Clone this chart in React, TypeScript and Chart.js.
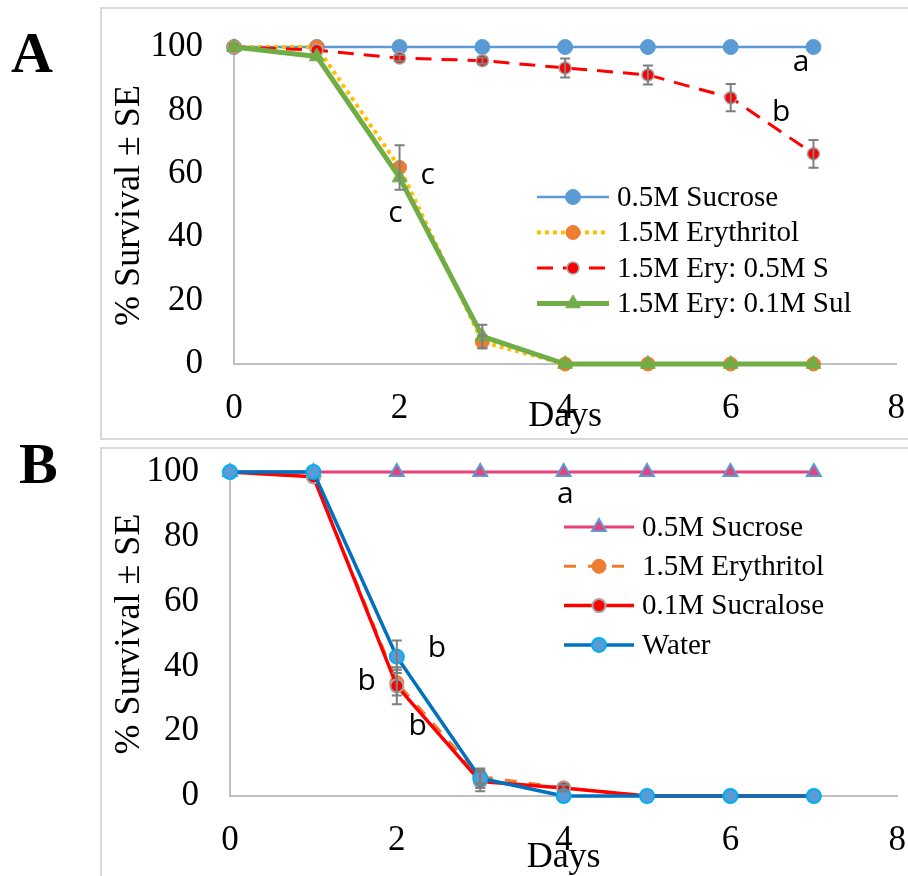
import React, { useEffect, useRef } from "react";
import { Chart, registerables } from "chart.js";
Chart.register(...registerables);

// ---------- DATA ----------
const DAYS = [0, 1, 2, 3, 4, 5, 6, 7];
const X_TICKS = [0, 2, 4, 6, 8];
const Y_TICKS = [0, 20, 40, 60, 80, 100];

// Panel A
const A_LABELS = ["0.5M Sucrose", "1.5M Erythritol", "1.5M Ery: 0.5M S", "1.5M Ery: 0.1M Sul"];
const A_SUCROSE = [100, 100, 100, 100, 100, 100, 100, 100];
const A_ERYTHRITOL = [100, 100, 62, 7, 0, 0, 0, 0];
const A_ERY_S = [100, 99, 96.5, 95.7, 93.4, 91.2, 84, 66.3];
const A_ERY_SUL = [100, 97, 58.8, 8.7, 0, 0, 0, 0];
const A_SUCROSE_SE = [0, 0, 0, 0, 0, 0, 0, 0];
const A_ERYTHRITOL_SE = [0, 0, 7, 2, 0, 0, 0, 0];
const A_ERY_S_SE = [0, 0, 1, 1, 3, 3, 4.3, 4.4];
const A_ERY_SUL_SE = [0, 0, 0, 3.7, 0, 0, 0, 0];
const A_LETTERS = ["c", "c", "a", "b"];
const A_LETTER_DAY = [2.34, 1.95, 6.85, 6.61];
const A_LETTER_VAL = [59.6, 47.6, 95, 79.5];

// Panel B
const B_LABELS = ["0.5M Sucrose", "1.5M Erythritol", "0.1M Sucralose", "Water"];
const B_SUCROSE = [100, 100, 100, 100, 100, 100, 100, 100];
const B_ERYTHRITOL = [100, 98.5, 35, 6, 2.5, 0, 0, 0];
const B_SUCRALOSE = [100, 98.5, 34, 4.5, 2.5, 0, 0, 0];
const B_WATER = [100, 100, 43, 5.5, 0, 0, 0, 0];
const B_SUCROSE_SE = [0, 0, 0, 0, 0, 0, 0, 0];
const B_ERYTHRITOL_SE = [0, 0, 4, 2, 1, 0, 0, 0];
const B_SUCRALOSE_SE = [0, 0, 5.7, 3, 1, 0, 0, 0];
const B_WATER_SE = [0, 0, 5, 3, 0, 0, 0, 0];
const B_LETTERS = ["a", "b", "b", "b"];
const B_LETTER_DAY = [4.02, 2.48, 1.64, 2.25];
const B_LETTER_VAL = [93.2, 45.4, 35.5, 21.6];

// ---------- STYLES ----------
const SERIF = '"Liberation Serif", "Times New Roman", serif';
const SANS = '"Open Sans", "Liberation Sans", sans-serif';

type Style = {
  color: string; width: number; dash: number[];
  point: string; radius: number; fill: string; pborder: string; pbw: number;
};

const A_STYLES: Style[] = [
  { color: "#5B9BD5", width: 2.5, dash: [], point: "circle", radius: 7.5, fill: "#5B9BD5", pborder: "#5B9BD5", pbw: 1 },
  { color: "#FFC000", width: 4, dash: [4, 4], point: "circle", radius: 7, fill: "#ED7D31", pborder: "#ED7D31", pbw: 1 },
  { color: "#FF0000", width: 3, dash: [16, 10], point: "circle", radius: 6, fill: "#FF0000", pborder: "#A5A5A5", pbw: 1.5 },
  { color: "#70AD47", width: 5, dash: [], point: "triangle", radius: 8.5, fill: "#70AD47", pborder: "#70AD47", pbw: 1 },
];
const B_STYLES: Style[] = [
  { color: "#E8407A", width: 3, dash: [], point: "triangle", radius: 8, fill: "#E8407A", pborder: "#5B9BD5", pbw: 2 },
  { color: "#ED7D31", width: 3, dash: [12, 12], point: "circle", radius: 7, fill: "#ED7D31", pborder: "#ED7D31", pbw: 1 },
  { color: "#FF0000", width: 3.5, dash: [], point: "circle", radius: 6.5, fill: "#FF0000", pborder: "#A5A5A5", pbw: 2 },
  { color: "#0070C0", width: 3.5, dash: [], point: "circle", radius: 7, fill: "#5B9BD5", pborder: "#00B0F0", pbw: 2 },
];

// ---------- PLUGINS ----------
const errorBars = {
  id: "errorBars",
  afterDatasetsDraw(chart: any) {
    const ctx = chart.ctx;
    const xs = chart.scales.x, ys = chart.scales.y;
    ctx.save();
    ctx.strokeStyle = "#7F7F7F";
    ctx.lineWidth = 2;
    ctx.setLineDash([]);
    chart.data.datasets.forEach((ds: any) => {
      (ds.errors || []).forEach((e: number, i: number) => {
        if (!e) return;
        const px = xs.getPixelForValue(ds.data[i].x);
        const y1 = ys.getPixelForValue(ds.data[i].y + e);
        const y2 = ys.getPixelForValue(ds.data[i].y - e);
        ctx.beginPath();
        ctx.moveTo(px, y1); ctx.lineTo(px, y2);
        ctx.moveTo(px - 5, y1); ctx.lineTo(px + 5, y1);
        ctx.moveTo(px - 5, y2); ctx.lineTo(px + 5, y2);
        ctx.stroke();
      });
    });
    ctx.restore();
  },
};

function drawMarker(ctx: any, st: Style, x: number, y: number) {
  ctx.save();
  ctx.setLineDash([]);
  ctx.fillStyle = st.fill;
  ctx.strokeStyle = st.pborder;
  ctx.lineWidth = st.pbw;
  ctx.beginPath();
  if (st.point === "triangle") {
    const r = st.radius;
    let a = 0;
    ctx.moveTo(x + Math.sin(a) * r, y - Math.cos(a) * r);
    a += (2 * Math.PI) / 3;
    ctx.lineTo(x + Math.sin(a) * r, y - Math.cos(a) * r);
    a += (2 * Math.PI) / 3;
    ctx.lineTo(x + Math.sin(a) * r, y - Math.cos(a) * r);
    ctx.closePath();
  } else {
    ctx.arc(x, y, st.radius, 0, Math.PI * 2);
  }
  ctx.fill();
  if (st.pbw) ctx.stroke();
  ctx.restore();
}

const customLegend = {
  id: "customLegend",
  afterDraw(chart: any, _args: any, opts: any) {
    if (!opts || !opts.items) return;
    const ctx = chart.ctx;
    ctx.save();
    opts.items.forEach((it: any, i: number) => {
      const y = opts.y + i * opts.rowH;
      const st: Style = it.style;
      ctx.strokeStyle = st.color;
      ctx.lineWidth = st.width;
      ctx.setLineDash(st.dash);
      ctx.beginPath();
      ctx.moveTo(opts.x, y);
      ctx.lineTo(opts.x + opts.lineLen, y);
      ctx.stroke();
      drawMarker(ctx, st, opts.x + opts.lineLen / 2, y);
      ctx.setLineDash([]);
      ctx.fillStyle = "#000";
      ctx.font = `${opts.fontSize}px ${SERIF}`;
      ctx.textAlign = "left";
      ctx.textBaseline = "middle";
      ctx.fillText(it.text, opts.x + opts.lineLen + opts.gap, y + 1);
    });
    ctx.restore();
  },
};

const letters = {
  id: "letters",
  afterDraw(chart: any, _args: any, opts: any) {
    if (!opts || !opts.text) return;
    const ctx = chart.ctx;
    const xs = chart.scales.x, ys = chart.scales.y;
    ctx.save();
    ctx.fillStyle = "#000";
    ctx.font = `30px ${SANS}`;
    ctx.textAlign = "center";
    ctx.textBaseline = "middle";
    opts.text.forEach((t: string, i: number) => {
      ctx.fillText(t, xs.getPixelForValue(opts.days[i]), ys.getPixelForValue(opts.vals[i]));
    });
    ctx.restore();
  },
};

// ---------- CHART ----------
type PanelCfg = {
  labels: string[]; series: number[][]; errors: number[][]; styles: Style[];
  letters: string[]; letterDays: number[]; letterVals: number[];
  width: number; height: number;
  padding: { left: number; right: number; top: number; bottom: number };
  yAxisW: number; xAxisH: number; xTickPad: number;
  legend: { x: number; y: number; rowH: number; lineLen: number; gap: number; fontSize: number };
};

function buildConfig(p: PanelCfg): any {
  const n = p.series.length;
  return {
    type: "line",
    data: {
      datasets: p.series.map((vals, i) => {
        const st = p.styles[i];
        return {
          label: p.labels[i],
          data: DAYS.map((d, j) => ({ x: d, y: vals[j] })),
          errors: p.errors[i],
          borderColor: st.color,
          borderWidth: st.width,
          borderDash: st.dash,
          borderCapStyle: "butt",
          borderJoinStyle: "round",
          pointStyle: st.point,
          pointRadius: st.radius,
          pointBackgroundColor: st.fill,
          pointBorderColor: st.pborder,
          pointBorderWidth: st.pbw,
          tension: 0,
          fill: false,
          clip: false,
          order: n - i,
        };
      }),
    },
    options: {
      animation: false,
      responsive: false,
      maintainAspectRatio: false,
      events: [],
      layout: { padding: p.padding },
      plugins: {
        legend: { display: false },
        tooltip: { enabled: false },
        customLegend: { ...p.legend, items: p.labels.map((t, i) => ({ text: t, style: p.styles[i] })) },
        letters: { text: p.letters, days: p.letterDays, vals: p.letterVals },
      },
      scales: {
        x: {
          type: "linear",
          min: 0,
          max: 8,
          afterBuildTicks: (s: any) => { s.ticks = X_TICKS.map((v) => ({ value: v })); },
          afterFit: (s: any) => { s.height = p.xAxisH; },
          ticks: { font: { family: SERIF, size: 35 }, color: "#000", padding: p.xTickPad, maxRotation: 0, autoSkip: false },
          grid: { display: false, drawTicks: false },
          border: { display: true, color: "#BFBFBF", width: 2 },
          title: { display: true, text: "Days", font: { family: SERIF, size: 36 }, color: "#000", padding: 0 },
        },
        y: {
          type: "linear",
          min: 0,
          max: 100,
          afterBuildTicks: (s: any) => { s.ticks = Y_TICKS.map((v) => ({ value: v })); },
          afterFit: (s: any) => { s.width = p.yAxisW; },
          ticks: { font: { family: SERIF, size: 35 }, color: "#000", padding: 31, autoSkip: false },
          grid: { display: false, drawTicks: false },
          border: { display: true, color: "#BFBFBF", width: 2 },
          title: { display: true, text: "% Survival ± SE", font: { family: SERIF, size: 36 }, color: "#000", padding: 0 },
        },
      },
    },
    plugins: [errorBars, customLegend, letters],
  };
}

function Panel({ cfg, left, top }: { cfg: PanelCfg; left: number; top: number }) {
  const ref = useRef<HTMLCanvasElement>(null);
  useEffect(() => {
    const chart = new Chart(ref.current as HTMLCanvasElement, buildConfig(cfg));
    return () => chart.destroy();
  }, []);
  return (
    <canvas
      ref={ref}
      width={cfg.width}
      height={cfg.height}
      style={{ position: "absolute", left, top, width: cfg.width, height: cfg.height }}
    />
  );
}

// Canvas A placed at page (101, -5); Canvas B at page (101, 420)
const PANEL_A: PanelCfg = {
  labels: A_LABELS,
  series: [A_SUCROSE, A_ERYTHRITOL, A_ERY_S, A_ERY_SUL],
  errors: [A_SUCROSE_SE, A_ERYTHRITOL_SE, A_ERY_S_SE, A_ERY_SUL_SE],
  styles: A_STYLES,
  letters: A_LETTERS, letterDays: A_LETTER_DAY, letterVals: A_LETTER_VAL,
  width: 828, height: 443,
  padding: { left: 7, right: 0, top: 0, bottom: 0 },
  yAxisW: 126, xAxisH: 74, xTickPad: 24,
  legend: { x: 436, y: 202, rowH: 35.5, lineLen: 72, gap: 8, fontSize: 29 },
};

const PANEL_B: PanelCfg = {
  labels: B_LABELS,
  series: [B_SUCROSE, B_ERYTHRITOL, B_SUCRALOSE, B_WATER],
  errors: [B_SUCROSE_SE, B_ERYTHRITOL_SE, B_SUCRALOSE_SE, B_WATER_SE],
  styles: B_STYLES,
  letters: B_LETTERS, letterDays: B_LETTER_DAY, letterVals: B_LETTER_VAL,
  width: 829, height: 459,
  padding: { left: 7, right: 0, top: 0, bottom: 0 },
  yAxisW: 122, xAxisH: 83, xTickPad: 24,
  legend: { x: 463, y: 107, rowH: 39.3, lineLen: 70, gap: 8, fontSize: 29 },
};

export default function App() {
  return (
    <div style={{ position: "fixed", left: 0, top: 0, width: 908, height: 876, background: "#fff", overflow: "hidden" }}>
      <div style={{ position: "absolute", left: 100, top: 7, width: 812, height: 429, border: "2px solid #D9D9D9" }} />
      <div style={{ position: "absolute", left: 100, top: 447, width: 812, height: 440, border: "2px solid #D9D9D9" }} />
      <Panel cfg={PANEL_A} left={101} top={-5} />
      <Panel cfg={PANEL_B} left={101} top={420} />
      <div style={{ position: "absolute", left: 11, top: 20, fontFamily: SERIF, fontWeight: "bold", fontSize: 58, lineHeight: "66px", color: "#000" }}>A</div>
      <div style={{ position: "absolute", left: 19, top: 431, fontFamily: SERIF, fontWeight: "bold", fontSize: 58, lineHeight: "66px", color: "#000" }}>B</div>
    </div>
  );
}
